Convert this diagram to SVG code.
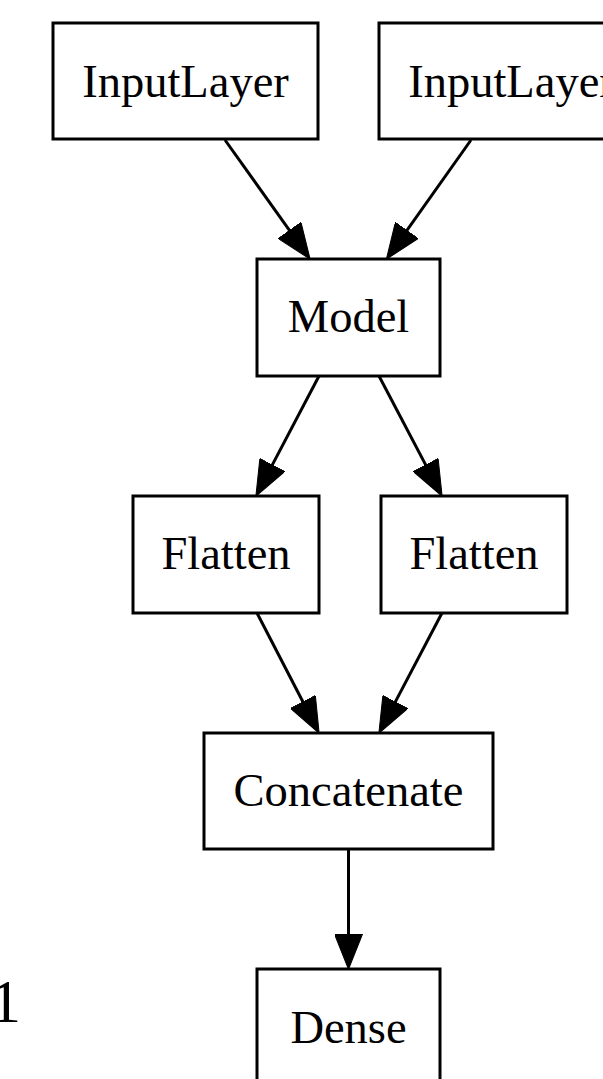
<svg xmlns="http://www.w3.org/2000/svg" width="603" height="1079" viewBox="0 0 603 1079">
  <style>
    .box { fill: #ffffff; stroke: #000000; stroke-width: 3; }
    .lbl { font-family: "Liberation Serif", "Times New Roman", serif; font-size: 46.5px; fill: #000000; text-anchor: middle; }
    .edge { stroke: #000000; stroke-width: 3; fill: none; }
    .frag { font-family: "Liberation Serif", "Times New Roman", serif; font-size: 62px; fill: #000000; }
  </style>
  <defs>
    <marker id="arrow" markerUnits="userSpaceOnUse" markerWidth="36" markerHeight="28" viewBox="0 0 34 27" refX="1" refY="13.5" orient="auto">
      <path d="M0,0 L34,13.5 L0,27 Z" fill="#000000" stroke="#000000" stroke-width="1"/>
    </marker>
  </defs>
  <rect x="0" y="0" width="603" height="1079" fill="#ffffff"/>

  <g id="connectors">
    <line class="edge" x1="225" y1="140" x2="290.2" y2="231.3" marker-end="url(#arrow)"/>
    <line class="edge" x1="471" y1="140" x2="406.2" y2="231.3" marker-end="url(#arrow)"/>
    <line class="edge" x1="319" y1="376" x2="271.8" y2="465.9" marker-end="url(#arrow)"/>
    <line class="edge" x1="379" y1="376" x2="426.2" y2="465.9" marker-end="url(#arrow)"/>
    <line class="edge" x1="257" y1="613" x2="303.4" y2="702.8" marker-end="url(#arrow)"/>
    <line class="edge" x1="442" y1="613" x2="394.8" y2="702.9" marker-end="url(#arrow)"/>
    <line class="edge" x1="348.5" y1="849" x2="348.5" y2="935" marker-end="url(#arrow)"/>
  </g>

  <g id="input1">
    <rect class="box" x="53" y="23" width="265" height="116"/>
    <text class="lbl" x="185.5" y="97">InputLayer</text>
  </g>
  <g id="input2">
    <rect class="box" x="379" y="23" width="265" height="116"/>
    <text class="lbl" x="511.5" y="97">InputLayer</text>
  </g>
  <g id="model">
    <rect class="box" x="257" y="259" width="183" height="117"/>
    <text class="lbl" x="348.5" y="332">Model</text>
  </g>
  <g id="flatten1">
    <rect class="box" x="133" y="496" width="186" height="117"/>
    <text class="lbl" x="226" y="569">Flatten</text>
  </g>
  <g id="flatten2">
    <rect class="box" x="381" y="496" width="186" height="117"/>
    <text class="lbl" x="474" y="569">Flatten</text>
  </g>
  <g id="concatenate">
    <rect class="box" x="204" y="733" width="289" height="116"/>
    <text class="lbl" x="348.5" y="806">Concatenate</text>
  </g>
  <g id="dense">
    <rect class="box" x="257" y="969" width="183" height="117"/>
    <text class="lbl" x="348.5" y="1042.5">Dense</text>
  </g>

  <text class="frag" x="-10" y="1022">1</text>
</svg>
